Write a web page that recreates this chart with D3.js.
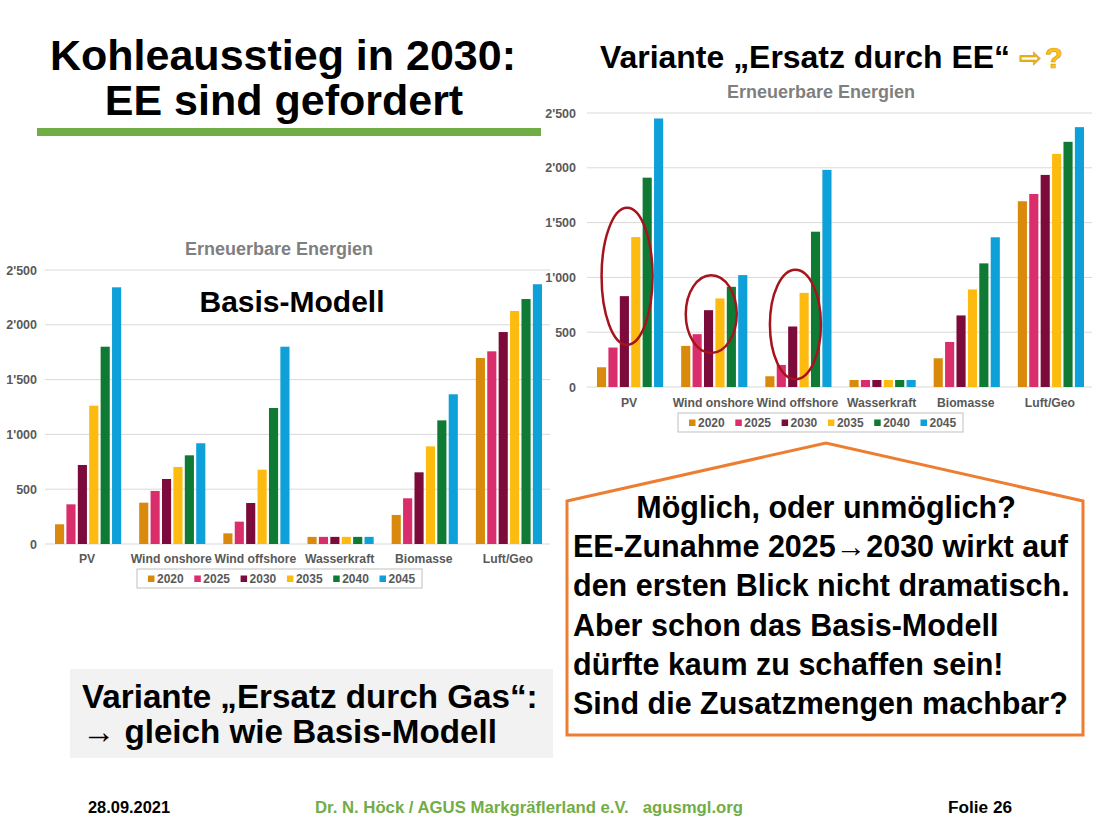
<!DOCTYPE html>
<html><head><meta charset="utf-8">
<script src="https://cdn.jsdelivr.net/npm/d3@7"></script>
<style>
html,body{margin:0;padding:0;background:#fff;}
svg{display:block;font-family:"Liberation Sans",Arial,sans-serif;}
</style></head>
<body>
<svg id="c" width="1100" height="825"></svg>
<script>
// ---------- data ----------
const categories = ["PV","Wind onshore","Wind offshore","Wasserkraft","Biomasse","Luft/Geo"];
const years = ["2020","2025","2030","2035","2040","2045"];
const yearColors = ["#d98a0c","#d92e6b","#7c0b3b","#fdba0f","#0f7a33","#0ea0d8"];
const yTicks = [0,500,1000,1500,2000,2500];

// Basis-Modell (left chart)
const basis2020 = [180, 377, 97, 65, 265, 1697];
const basis2025 = [362, 484, 204, 65, 417, 1758];
const basis2030 = [721, 593, 374, 65, 654, 1934];
const basis2035 = [1262, 703, 678, 65, 891, 2126];
const basis2040 = [1800, 809, 1241, 65, 1128, 2235];
const basis2045 = [2342, 919, 1800, 65, 1366, 2370];

// Variante "Ersatz durch EE" (right chart)
const ee2020 = [180, 375, 98, 64, 262, 1695];
const ee2025 = [360, 482, 201, 64, 411, 1761];
const ee2030 = [829, 701, 552, 64, 653, 1935];
const ee2035 = [1368, 808, 859, 64, 890, 2127];
const ee2040 = [1910, 914, 1417, 64, 1128, 2237];
const ee2045 = [2450, 1021, 1981, 64, 1366, 2371];

// annotation ellipses on right chart (category, centre value, half-height in value units)
const ellipseCats = ["PV","Wind onshore","Wind offshore"];
const ellipseCenter = [1010, 665, 570];
const ellipseHalf = [625, 355, 500];

const basisSeries = [basis2020,basis2025,basis2030,basis2035,basis2040,basis2045];
const eeSeries = [ee2020,ee2025,ee2030,ee2035,ee2040,ee2045];

// ---------- drawing ----------
const svg = d3.select("#c");
const loc = d3.formatLocale({decimal:".", thousands:"'", grouping:[3], currency:["",""]});
const fmt = loc.format(",");
const grey = "#595959";

function drawChart(series, opt){
  const g = svg.append("g");
  const x0 = d3.scaleBand().domain(categories).range([opt.x0, opt.x1]).padding(0);
  const x1 = d3.scaleBand().domain(years).range([10, x0.bandwidth()-8]).paddingInner(0.2);
  const y = d3.scaleLinear().domain([0,2500]).range([opt.yb, opt.yt]);

  // gridlines
  g.append("g").selectAll("line").data(yTicks).join("line")
    .attr("x1", opt.x0).attr("x2", opt.x1)
    .attr("y1", d=>y(d)).attr("y2", d=>y(d))
    .attr("stroke", "#d9d9d9").attr("stroke-width", 1);

  // y axis labels
  const ya = d3.axisLeft(y).tickValues(yTicks).tickFormat(fmt).tickSize(0).tickPadding(0);
  const yg = g.append("g").attr("transform", `translate(${opt.ylab},0)`).call(ya);
  yg.select(".domain").remove();
  yg.selectAll("text").attr("font-size", 12.5).attr("font-weight","bold").attr("fill", grey)
    .attr("font-family", '"Liberation Sans",Arial,sans-serif');

  // bars
  const rows = [];
  series.forEach((arr, si) => arr.forEach((v, ci) => rows.push({cat:categories[ci], year:years[si], v, si})));
  g.append("g").selectAll("rect").data(rows).join("rect")
    .attr("x", d => x0(d.cat) + x1(d.year))
    .attr("width", x1.bandwidth())
    .attr("y", d => y(d.v))
    .attr("height", d => y(0) - y(d.v))
    .attr("fill", d => yearColors[d.si]);

  // x axis labels
  const xa = d3.axisBottom(x0).tickSize(0).tickPadding(0);
  const xg = g.append("g").attr("transform", `translate(0,${opt.xlab})`).call(xa);
  xg.select(".domain").remove();
  xg.selectAll("text").attr("font-size", 12.2).attr("font-weight","bold").attr("fill", grey)
    .attr("font-family", '"Liberation Sans",Arial,sans-serif').attr("dy", 0);

  // title
  g.append("text").attr("x", opt.tx).attr("y", opt.ty).attr("text-anchor","middle")
    .attr("font-size", 18).attr("font-weight","bold").attr("fill","#7f7f7f")
    .text("Erneuerbare Energien");

  // legend
  const lg = g.append("g").attr("transform", `translate(${opt.lx},${opt.ly})`);
  lg.append("rect").attr("x",0).attr("y",0).attr("width",285).attr("height",19)
    .attr("fill","#fff").attr("stroke","#bfbfbf").attr("stroke-width",1);
  const items = lg.selectAll("g").data(years).join("g")
    .attr("transform", (d,i)=>`translate(${11 + i*46.3},0)`);
  items.append("rect").attr("x",0).attr("y",6.5).attr("width",6.5).attr("height",6.5)
    .attr("fill",(d,i)=>yearColors[i]);
  items.append("text").attr("x",9).attr("y",14).attr("font-size",12).attr("font-weight","bold")
    .attr("fill",grey).text(d=>d);

  return {g, x0, x1, y};
}

// ---- header ----
svg.append("text").attr("x",283).attr("y",70).attr("text-anchor","middle")
  .attr("font-size",43).attr("font-weight","bold").attr("fill","#000").text("Kohleausstieg in 2030:");
svg.append("text").attr("x",284).attr("y",115).attr("text-anchor","middle")
  .attr("font-size",43).attr("font-weight","bold").attr("fill","#000").text("EE sind gefordert");
svg.append("rect").attr("x",37).attr("y",128).attr("width",504).attr("height",8).attr("fill","#70ad47");

svg.append("text").attr("x",600).attr("y",68).attr("font-size",31).attr("font-weight","bold").attr("fill","#000")
  .attr("textLength",410).attr("lengthAdjust","spacingAndGlyphs")
  .text("Variante „Ersatz durch EE“");
svg.append("text").attr("x",1019).attr("y",67).attr("font-family","DejaVu Sans").attr("font-size",27)
  .attr("fill","#fcc21b").attr("stroke","#d9a010").attr("stroke-width",0.7).text("⇨");
svg.append("text").attr("x",1045).attr("y",68).attr("font-size",29).attr("font-weight","bold")
  .attr("fill","#fcc21b").attr("stroke","#d9a010").attr("stroke-width",0.7).text("?");

// ---- charts ----
const left = drawChart(basisSeries, {x0:45, x1:550, yb:544, yt:270, ylab:37, xlab:563, tx:279, ty:255, lx:137, ly:569});
svg.append("text").attr("x",292).attr("y",312).attr("text-anchor","middle")
  .attr("font-size",30).attr("font-weight","bold").attr("fill","#000").text("Basis-Modell");

const right = drawChart(eeSeries, {x0:587, x1:1092, yb:387, yt:113, ylab:576, xlab:407, tx:821, ty:98, lx:678, ly:413});

// ellipses
svg.append("g").selectAll("ellipse").data(ellipseCats).join("ellipse")
  .attr("cx", d => right.x0(d) + right.x0.bandwidth()/2 - 2)
  .attr("cy", (d,i) => right.y(ellipseCenter[i]))
  .attr("rx", 25.5)
  .attr("ry", (d,i) => right.y(0) - right.y(ellipseHalf[i]))
  .attr("fill","none").attr("stroke","#a5131c").attr("stroke-width",2.5);

// ---- house callout ----
svg.append("polygon").attr("points","567,501 826,443 1083,501 1083,735 567,735")
  .attr("fill","#fff").attr("stroke","#ed7d31").attr("stroke-width",3).attr("stroke-linejoin","miter");
const houseLines = ["EE-Zunahme 2025→2030 wirkt auf","den ersten Blick nicht dramatisch.","Aber schon das Basis-Modell","dürfte kaum zu schaffen sein!","Sind die Zusatzmengen machbar?"];
svg.append("text").attr("x",826).attr("y",518).attr("text-anchor","middle")
  .attr("font-size",30.5).attr("font-weight","bold").text("Möglich, oder unmöglich?");
svg.append("g").selectAll("text").data(houseLines).join("text")
  .attr("x",573).attr("y",(d,i)=>557 + i*39.3)
  .attr("font-size",30.5).attr("font-weight","bold").text(d=>d);

// ---- bottom-left box ----
svg.append("rect").attr("x",70).attr("y",669).attr("width",483).attr("height",89).attr("fill","#f2f2f2");
svg.append("text").attr("x",82).attr("y",708).attr("font-size",33.2).attr("font-weight","bold").text("Variante „Ersatz durch Gas“:");
svg.append("text").attr("x",82).attr("y",743).attr("font-size",33.2).attr("font-weight","bold").text("→ gleich wie Basis-Modell");

// ---- footer ----
const ff = '"Liberation Sans Narrow","Arial Narrow","Liberation Sans",sans-serif';
svg.append("text").attr("x",88).attr("y",813).attr("font-family",ff).attr("font-size",16).attr("font-weight","bold")
  .attr("textLength",82).attr("lengthAdjust","spacingAndGlyphs").text("28.09.2021");
svg.append("text").attr("x",315).attr("y",813).attr("font-family",ff).attr("font-size",16).attr("font-weight","bold")
  .attr("fill","#70ad47").attr("textLength",428).attr("lengthAdjust","spacingAndGlyphs")
  .attr("xml:space","preserve").text("Dr. N. Höck / AGUS Markgräflerland e.V.   agusmgl.org");
svg.append("text").attr("x",948).attr("y",813).attr("font-family",ff).attr("font-size",16).attr("font-weight","bold")
  .attr("textLength",64).attr("lengthAdjust","spacingAndGlyphs").text("Folie 26");
</script>
</body></html>
